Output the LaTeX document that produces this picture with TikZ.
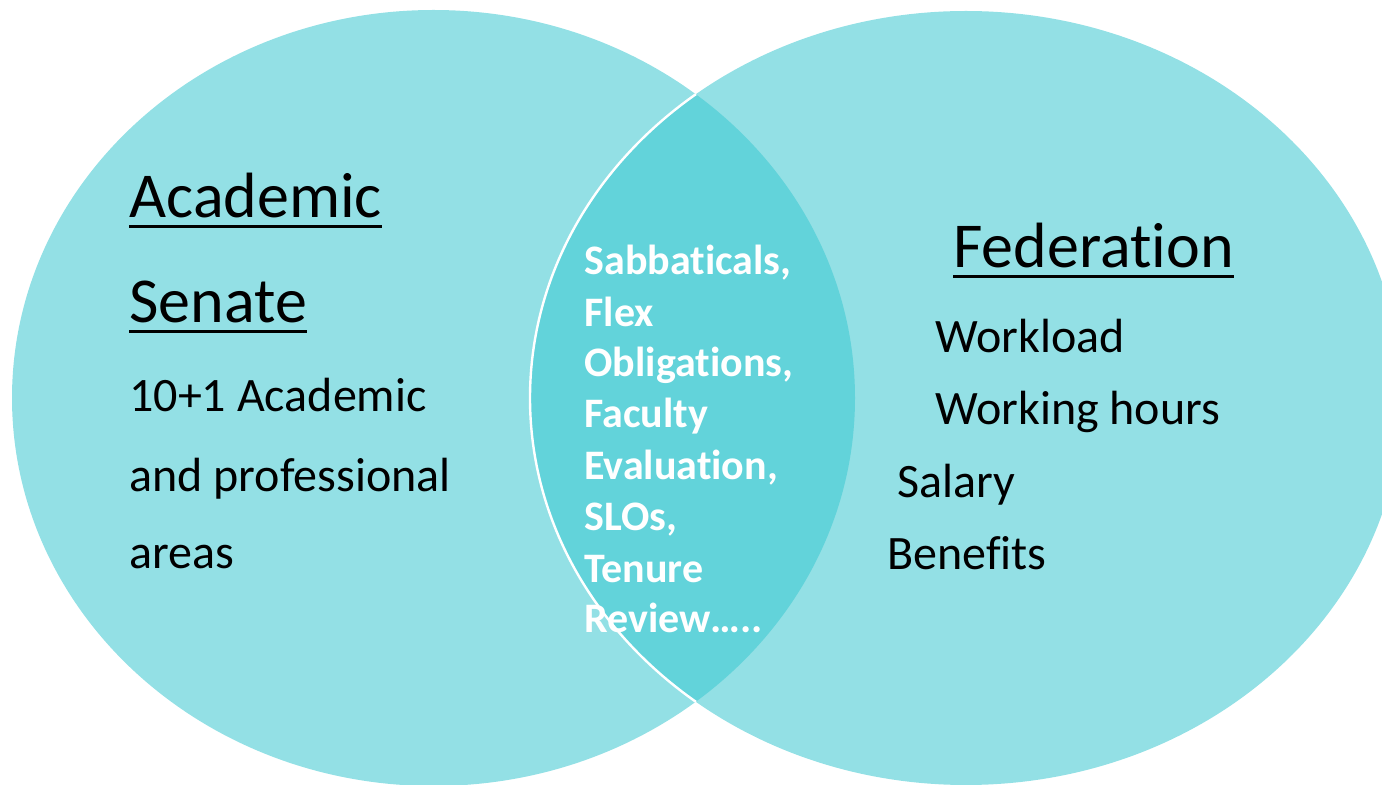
\documentclass[tikz,border=0pt]{standalone}
\usepackage{fontspec}
\setmainfont{Carlito}[RawFeature={-liga;-clig;-calt;-dlig}]
\newcommand\nolig{\kern0pt{}}
\definecolor{venlight}{RGB}{147,224,229}
\definecolor{vendark}{RGB}{98,211,218}
\tikzset{
  setfill/.style={fill=venlight},
  lensfill/.style={fill=vendark},
  head/.style={anchor=base west, inner sep=0pt, font=\fontsize{32}{38}\selectfont, text=black},
  item/.style={anchor=base west, inner sep=0pt, font=\fontsize{24}{29}\selectfont, text=black},
  shared/.style={anchor=base west, inner sep=0pt, font=\bfseries\fontsize{21}{25.5}\selectfont, text=white},
  uline/.style={line width=1.5pt, black}
}
\begin{document}
\begin{tikzpicture}[x=0.5pt,y=-0.5pt]
\useasboundingbox (0,0) rectangle (1382,785);
% two sets
\path[setfill] (433.5,398) ellipse [x radius=421.5, y radius=388];
\path[setfill] (966,398) ellipse [x radius=436, y radius=387];
% overlap
\begin{scope}
  \clip (433.5,398) ellipse [x radius=421.5, y radius=388];
  \path[lensfill] (966,398) ellipse [x radius=436, y radius=387];
  \draw[white, line width=1.2pt] (966,398) ellipse [x radius=436, y radius=387];
\end{scope}
% left set
\node[head] (as1) at (129,218) {Academic};
\node[head] (as2) at (129,323) {Senate};
\draw[uline] ([yshift=-4.5pt]as1.base west) -- ([yshift=-4.5pt]as1.base east);
\draw[uline] ([yshift=-4.5pt]as2.base west) -- ([yshift=-4.5pt]as2.base east);
\node[item] (l1) at (129,412) {10+1 Academic};
\node[item] (l2) at (129,492) {and professional};
\node[item] (l3) at (129,569) {areas};
% overlap text
\node[shared] (m1) at (584,275) {Sabbat\nolig icals,};
\node[shared] (m2) at (584,327) {Flex};
\node[shared] (m3) at (584,377) {Obligat\nolig ions,};
\node[shared] (m4) at (584,428) {Faculty};
\node[shared] (m5) at (584,480) {Evaluat\nolig ion,};
\node[shared] (m6) at (584,531) {SLOs,};
\node[shared] (m7) at (584,583) {Tenure};
\node[shared] (m8) at (584,633) {Review…..};
% right set
\node[head] (fed) at (953,268) {Federat\nolig ion};
\draw[uline] ([yshift=-4.5pt]fed.base west) -- ([yshift=-4.5pt]fed.base east);
\node[item] (r1) at (935,353) {Workload};
\node[item] (r2) at (935,425) {Working hours};
\node[item] (r3) at (897,498) {Salary};
\node[item] (r4) at (887,570) {Benef\nolig its};
\end{tikzpicture}
\end{document}
